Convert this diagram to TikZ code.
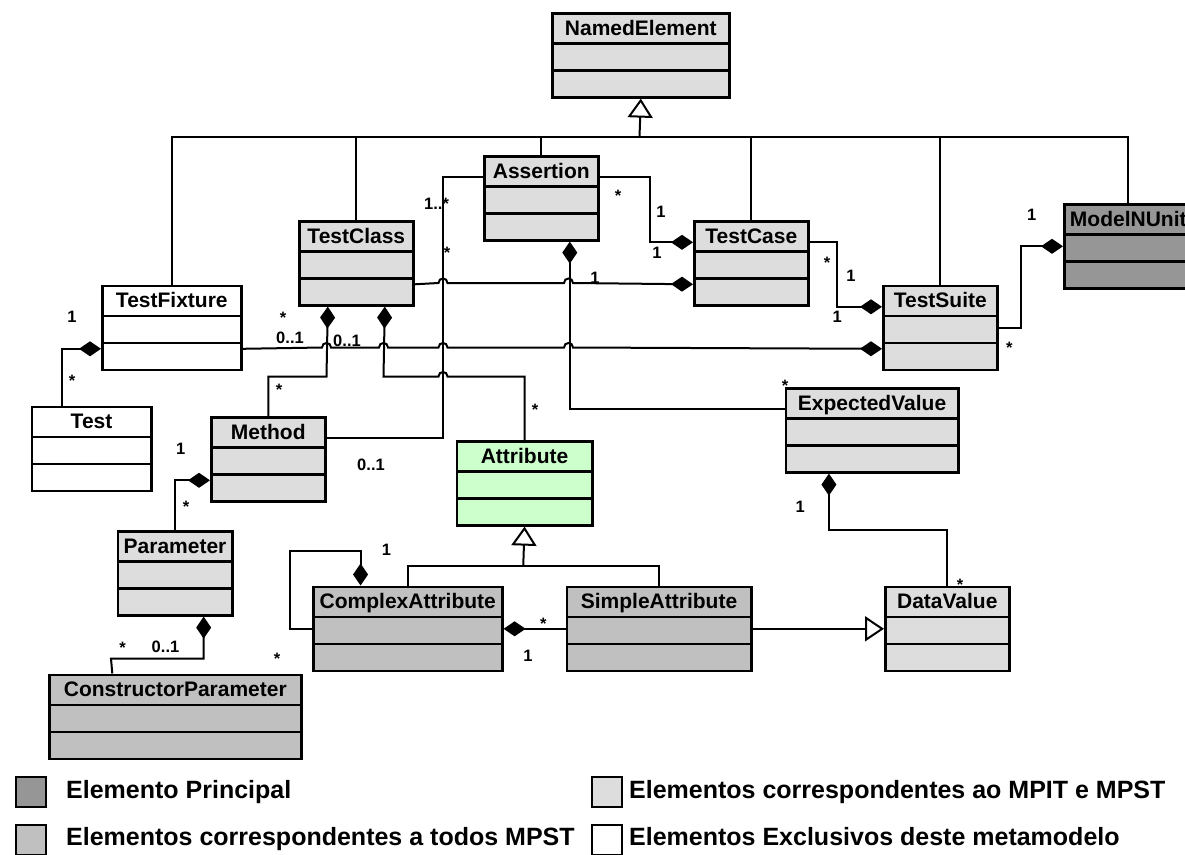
\documentclass[tikz,border=0pt]{standalone}
\usepackage{fontspec}
\setmainfont{Liberation Sans}
\usetikzlibrary{arrows.meta,calc}
\definecolor{mainc}{HTML}{969696}
\definecolor{allc}{HTML}{C0C0C0}
\definecolor{mpitc}{HTML}{DDDDDD}
\definecolor{attrc}{HTML}{CCFFCC}
\newcommand{\clsfont}{\fontsize{21}{24}\selectfont\bfseries}
\newcommand{\multfont}{\fontsize{16.5}{18}\selectfont\bfseries}
\newcommand{\legfont}{\fontsize{25}{28}\selectfont\bfseries}
\newcommand{\hop}[2]{-- (#1-4.5,#2) .. controls (#1-4.5,#2-6) and (#1+4.5,#2-6) .. (#1+4.5,#2)}

\tikzset{
  cls/.style={draw, line width=2.6pt, anchor=north west, inner sep=0pt,
    minimum height=84pt, text height=22pt, text depth=62pt, font=\clsfont,
    path picture={
      \draw[line width=2.6pt]
        ([yshift=-30pt]path picture bounding box.north west) -- ([yshift=-30pt]path picture bounding box.north east)
        ([yshift=-57pt]path picture bounding box.north west) -- ([yshift=-57pt]path picture bounding box.north east);
    }},
  conn/.style={line width=2pt},
  comp/.style={conn, {Diamond[length=22pt, width=15pt]}-},
  compend/.style={conn, -{Diamond[length=22pt, width=15pt]}},
  gen/.style={conn, -{Triangle[length=19pt, width=25pt, fill=white]}},
  mult/.style={font=\multfont, inner sep=0pt, text height=11.5pt, text depth=0pt},
  key/.style={draw, line width=2pt, minimum size=30pt, inner sep=0pt, anchor=north west}
}

\begin{document}
\begin{tikzpicture}[x=1pt, y=-1pt]
  \useasboundingbox (0,0) rectangle (1185,854);

  \node[cls, fill=mpitc, minimum width=177pt] (NamedElement) at (551,12) {NamedElement};
  \node[cls, fill=mpitc, minimum width=114pt] (Assertion) at (483,155) {Assertion};
  \node[cls, fill=mpitc, minimum width=114pt] (TestClass) at (298,220) {TestClass};
  \node[cls, fill=mpitc, minimum width=114pt] (TestCase) at (693,220) {TestCase};
  \node[cls, fill=mpitc, minimum width=114pt] (TestSuite) at (882,284.5) {TestSuite};
  \node[cls, fill=mainc, minimum width=128pt] (ModelNUnit) at (1063,203) {ModelNUnit};
  \node[cls, fill=white, minimum width=139pt] (TestFixture) at (101,284.5) {TestFixture};
  \node[cls, fill=white, minimum width=119.5pt] (Test) at (30.5,405.5) {Test};
  \node[cls, fill=mpitc, minimum width=114pt] (Method) at (210,416) {Method};
  \node[cls, fill=attrc, minimum width=135.5pt] (Attribute) at (455.5,440) {Attribute};
  \node[cls, fill=mpitc, minimum width=172.5pt] (ExpectedValue) at (784.5,387) {ExpectedValue};
  \node[cls, fill=mpitc, minimum width=114.5pt] (Parameter) at (116.5,530) {Parameter};
  \node[cls, fill=allc, minimum width=252pt] (ConstructorParameter) at (48,673.5) {ConstructorParameter};
  \node[cls, fill=allc, minimum width=189pt] (ComplexAttribute) at (312,585.5) {ComplexAttribute};
  \node[cls, fill=allc, minimum width=184.5pt] (SimpleAttribute) at (565.5,585.5) {SimpleAttribute};
  \node[cls, fill=mpitc, minimum width=124pt] (DataValue) at (884,585.5) {DataValue};

  % generalization to NamedElement
  \node[inner sep=0, minimum size=0] (G1) at (639.5,137) {};
  \draw[conn]
    (TestFixture.north) -- (TestFixture.north |- G1) -- (ModelNUnit.north |- G1) -- (ModelNUnit.north)
    (TestClass.north) -- (TestClass.north |- G1)
    (Assertion.north) -- (Assertion.north |- G1)
    (TestCase.north) -- (TestCase.north |- G1)
    (TestSuite.north) -- (TestSuite.north |- G1);
  \draw[gen] (G1) -- (NamedElement.south);

  % Assertion
  \draw[conn] ([yshift=21pt]Assertion.west) -| (443,300) |- ([yshift=21pt]Method.east);
  \draw[comp] ([yshift=21pt]TestCase.west) -| (649.5,200) |- ([yshift=21pt]Assertion.east);
  \draw[comp] ([xshift=28.5pt]Assertion.south) |- ([yshift=21pt]ExpectedValue.west);

  % TestClass
  \draw[compend] ([yshift=-21pt]TestClass.east) \hop{443}{283} \hop{568.5}{283}
    -- ([yshift=-21pt]TestCase.west);
  \draw[comp] ([xshift=-28.5pt]TestClass.south) -- (326.5,376.5) -| (Method.north);
  \draw[comp] ([xshift=28.5pt]TestClass.south) -- (383.5,376.5) \hop{443}{376.5}
    -| (Attribute.north);

  % TestFixture
  \draw[compend] ([yshift=-21pt]TestFixture.east) \hop{326.5}{347.5} \hop{383.5}{347.5}
    \hop{443}{347.5} \hop{568.5}{347.5} -- ([yshift=-21pt]TestSuite.west);
  \draw[comp] ([yshift=-21pt]TestFixture.west) -| ([xshift=-29.875pt]Test.north);

  % TestCase, TestSuite, ModelNUnit
  \draw[comp] ([yshift=21pt]TestSuite.west) -| (837,280) |- ([yshift=21pt]TestCase.east);
  \draw[comp] (ModelNUnit.west) -| (1021,300) |- (TestSuite.east);

  % Method, Parameter
  \draw[comp] ([yshift=-21pt]Method.west) -| (Parameter.north);
  \draw[comp] ([xshift=28.625pt]Parameter.south) |- (111,658.5)
    -- ([xshift=-63pt]ConstructorParameter.north);

  % Attribute
  \node[inner sep=0, minimum size=0] (GA) at (523.25,565.5) {};
  \draw[conn] (ComplexAttribute.north) |- (GA) -| (SimpleAttribute.north);
  \draw[gen] (GA) -- (Attribute.south);
  \draw[comp] ([xshift=-47.25pt]ComplexAttribute.north) |- (289.5,550.5) |- (ComplexAttribute.west);
  \draw[comp] (ComplexAttribute.east) -- (SimpleAttribute.west);
  \draw[gen] (SimpleAttribute.east) -- (DataValue.west);
  \draw[comp] ([xshift=-43.125pt]ExpectedValue.south) |- (900,530) -| (DataValue.north);

  % multiplicities
  \node[mult] (m1) at (618,196) {*};
  \node[mult] (m2) at (661,212) {1};
  \node[mult] (m3) at (657,253) {1};
  \node[mult, anchor=base west] (m4) at (424,209.5) {1..*};
  \node[mult] (m5) at (447,253) {*};
  \node[mult] (m6) at (595,278) {1};
  \node[mult] (m7) at (371,465) {0..1};
  \node[mult] (m8) at (785,386) {*};
  \node[mult] (m9) at (283,318) {*};
  \node[mult] (m10) at (290,337.5) {0..1};
  \node[mult] (m11) at (347,341) {0..1};
  \node[mult] (m12) at (279,390) {*};
  \node[mult] (m13) at (535,410) {*};
  \node[mult] (m14) at (72,316.7) {1};
  \node[mult] (m15) at (72,381) {*};
  \node[mult] (m16) at (180.6,448.3) {1};
  \node[mult] (m17) at (186,507) {*};
  \node[mult] (m18) at (122.5,648) {*};
  \node[mult] (m19) at (165.5,646.7) {0..1};
  \node[mult] (m20) at (277,659) {*};
  \node[mult] (m21) at (386.5,550) {1};
  \node[mult] (m22) at (543.4,624) {*};
  \node[mult] (m23) at (528,656) {1};
  \node[mult] (m24) at (800.3,506.7) {1};
  \node[mult] (m25) at (960,585) {*};
  \node[mult] (m26) at (827,262.5) {*};
  \node[mult] (m27) at (851,276) {1};
  \node[mult] (m28) at (837.3,317) {1};
  \node[mult] (m29) at (1031.7,215) {1};
  \node[mult] (m30) at (1009.3,347.5) {*};

  % legend
  \node[key, fill=mainc] (kMain) at (14.5,775.5) {};
  \node[key, fill=allc] (kAll) at (14.5,824) {};
  \node[key, fill=mpitc] (kMpit) at (590.5,775.5) {};
  \node[key, fill=white] (kExcl) at (590.5,824) {};
  \node[font=\legfont, anchor=base west, inner sep=0] (tMain) at (66,798.3) {Elemento Principal};
  \node[font=\legfont, anchor=base west, inner sep=0] (tAll) at (66,845) {Elementos correspondentes a todos MPST};
  \node[font=\legfont, anchor=base west, inner sep=0] (tMpit) at (629,798.3) {Elementos correspondentes ao MPIT e MPST};
  \node[font=\legfont, anchor=base west, inner sep=0] (tExcl) at (629,845) {Elementos Exclusivos deste metamodelo};
\end{tikzpicture}
\end{document}
